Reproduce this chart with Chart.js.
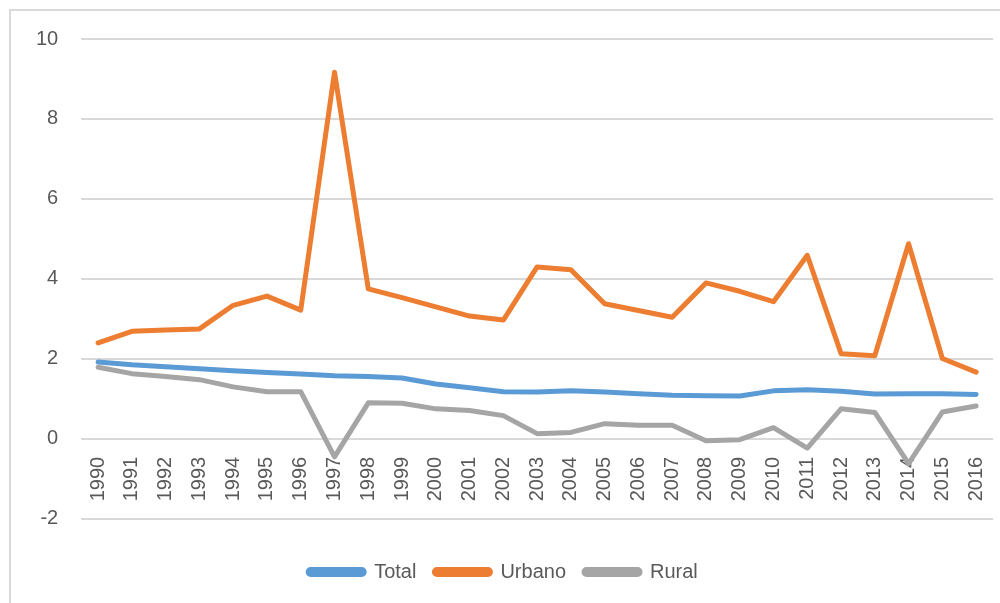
<!DOCTYPE html>
<html>
<head>
<meta charset="utf-8">
<script src="https://cdn.jsdelivr.net/npm/chart.js@4/dist/chart.umd.min.js"></script>
<style>
  html,body{margin:0;padding:0;background:#fff;}
  #wrap{position:relative;width:1000px;height:603px;overflow:hidden;}
  #frame{position:absolute;left:9px;top:9px;width:1200px;height:800px;border-left:2px solid #d9d9d9;border-top:2px solid #d9d9d9;pointer-events:none;}
  canvas{position:absolute;left:0;top:0;}
</style>
</head>
<body>
<div id="wrap">
  <canvas id="chart" width="1000" height="603"></canvas>
  <div id="frame"></div>
</div>
<script>
// datos
const years=["1990","1991","1992","1993","1994","1995","1996","1997","1998","1999","2000","2001","2002","2003","2004","2005","2006","2007","2008","2009","2010","2011","2012","2013","2014","2015","2016"];
const total=[1.92,1.85,1.80,1.75,1.70,1.66,1.62,1.58,1.56,1.52,1.37,1.28,1.18,1.17,1.20,1.17,1.13,1.09,1.08,1.07,1.20,1.23,1.19,1.12,1.13,1.13,1.11];
const urbano=[2.40,2.69,2.72,2.75,3.34,3.57,3.22,9.17,3.75,3.53,3.30,3.07,2.97,4.30,4.23,3.38,3.21,3.04,3.90,3.69,3.43,4.59,2.13,2.08,4.88,2.01,1.67];
const rural=[1.79,1.63,1.56,1.48,1.30,1.18,1.18,-0.45,0.90,0.89,0.75,0.71,0.58,0.13,0.16,0.38,0.34,0.34,-0.05,-0.02,0.28,-0.23,0.75,0.66,-0.62,0.67,0.82];
const seriesNames=["Total","Urbano","Rural"];
const yTicks=[-2,0,2,4,6,8,10];

const colors=["#5b9bd5","#ed7d31","#a5a5a5"];
const txt="#595959", grid="#d9d9d9";
const font={family:"'Liberation Sans', Arial, sans-serif",size:20};

const mk=(i,data)=>({label:seriesNames[i],data,borderColor:colors[i],backgroundColor:colors[i],borderWidth:5,pointRadius:0,tension:0,borderJoinStyle:"round",borderCapStyle:"round"});

new Chart(document.getElementById("chart").getContext("2d"),{
  type:"line",
  data:{labels:years,datasets:[mk(0,total),mk(1,urbano),mk(2,rural)]},
  options:{
    responsive:false,animation:false,
    layout:{padding:{left:13,right:7,top:39,bottom:11}},
    plugins:{
      tooltip:{enabled:false},
      legend:{
        position:"bottom",
        // titulo vacío solo para dejar espacio entre el eje y la leyenda
        title:{display:true,text:" ",font:{size:1},padding:{top:0,bottom:24}},
        labels:{color:txt,font,boxWidth:56,boxHeight:5,useBorderRadius:true,borderRadius:2.5,padding:18}
      }
    },
    scales:{
      x:{
        position:{y:0},
        offset:true,
        grid:{display:false},
        border:{display:false},
        ticks:{color:txt,font,minRotation:90,maxRotation:90,autoSkip:false,padding:10},
        afterFit:s=>{s.paddingLeft=0;s.paddingRight=0;}
      },
      y:{
        min:-2,max:10,
        afterBuildTicks:s=>{s.ticks=yTicks.map(v=>({value:v}));},
        grid:{color:grid,lineWidth:2,drawTicks:false},
        border:{display:false},
        ticks:{color:txt,font,padding:23}
      }
    }
  }
});
</script>
</body>
</html>
